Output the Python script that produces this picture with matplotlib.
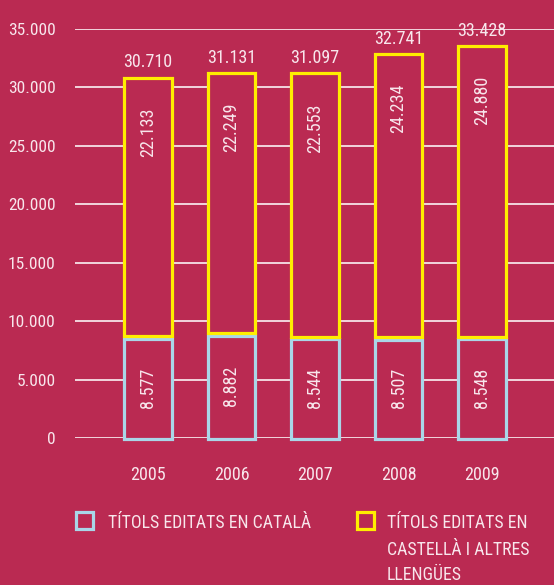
import matplotlib
matplotlib.use("Agg")
import matplotlib.pyplot as plt
from matplotlib.patches import Rectangle
from matplotlib import font_manager as fm
from matplotlib.transforms import ScaledTranslation

years = ["2005", "2006", "2007", "2008", "2009"]
catala = [8577, 8882, 8544, 8507, 8548]
castella = [22133, 22249, 22553, 24234, 24880]
totals = [30710, 31131, 31097, 32741, 33428]
yticks = [0, 5000, 10000, 15000, 20000, 25000, 30000, 35000]

def fmt(v):
    return f"{v:,}".replace(",", ".")

BG = "#BA2A52"
YEL = "#FFEE00"
BLUE = "#A9D6E8"
TXT = "#F8E6EC"
available = {f.name for f in fm.fontManager.ttflist}
cands = ["Roboto Condensed", "Barlow Semi Condensed", "Archivo Narrow", "Liberation Sans Narrow"]
FAM = [c for c in cands if c in available][:1] + ["DejaVu Sans"]
plt.rcParams["font.family"] = FAM

fig = plt.figure(figsize=(5.54, 5.85), dpi=100, facecolor=BG)
ax = fig.add_axes([75 / 554, 1 - 438 / 585, 1 - 75 / 554, (438 - 29) / 585])
ax.set_facecolor(BG)
x = list(range(len(years)))
w = 0.565
down = ax.transData + ScaledTranslation(0, -1.3 / 100, fig.dpi_scale_trans)
up = ax.transData + ScaledTranslation(0, 1.3 / 100, fig.dpi_scale_trans)
b1 = ax.bar(x, catala, width=w, color=BG, edgecolor=BLUE, linewidth=2.3, zorder=3)
b2 = ax.bar(x, castella, bottom=catala, width=w, color=BG, edgecolor=YEL, linewidth=2.3, zorder=4)
for r in b1:
    r.set_transform(down)
    r.set_clip_on(False)
for r in b2:
    r.set_transform(up)

FS = 13
for i in x:
    ax.text(i, catala[i] / 2, fmt(catala[i]), rotation=90, ha="center", va="center",
            color=TXT, fontsize=FS, zorder=5)
    ax.text(i, totals[i] - 4560, fmt(castella[i]), rotation=90, ha="center", va="center",
            color=TXT, fontsize=FS, zorder=5)
    ax.annotate(fmt(totals[i]), (i, totals[i]), xytext=(0, 12), textcoords="offset points",
                ha="center", va="center", color=TXT, fontsize=FS, annotation_clip=False)

ax.set_xlim(-0.874, 4.862)
ax.set_ylim(0, 35000)
ax.set_yticks(yticks)
ax.set_yticklabels([fmt(v) for v in yticks], color=TXT, fontsize=12.5)
ax.set_xticks(x)
ax.set_xticklabels(years, color=TXT, fontsize=FS)
ax.tick_params(axis="y", length=0, pad=14)
ax.tick_params(axis="x", length=0, pad=20)
ax.grid(axis="y", color="#F6E2E8", linewidth=1.3, zorder=0)
ax.set_axisbelow(True)
for s in ax.spines.values():
    s.set_visible(False)

def fx(px):
    return px / 554
def fy(py):
    return 1 - py / 585

fig.patches.append(Rectangle((fx(76), fy(529)), 17 / 554, 17 / 585, transform=fig.transFigure,
                             facecolor=BG, edgecolor=BLUE, linewidth=2.3))
fig.patches.append(Rectangle((fx(357), fy(529)), 17 / 554, 17 / 585, transform=fig.transFigure,
                             facecolor=BG, edgecolor=YEL, linewidth=2.3))
LF = 12.8
fig.text(fx(108), fy(523), "TÍTOLS EDITATS EN CATALÀ", color=TXT, fontsize=LF, va="center", ha="left")
fig.text(fx(387), fy(523), "TÍTOLS EDITATS EN", color=TXT, fontsize=LF, va="center", ha="left")
fig.text(fx(387), fy(550), "CASTELLÀ I ALTRES", color=TXT, fontsize=LF, va="center", ha="left")
fig.text(fx(387), fy(575), "LLENGÜES", color=TXT, fontsize=LF, va="center", ha="left")

fig.savefig("out.png", dpi=100, facecolor=BG)
